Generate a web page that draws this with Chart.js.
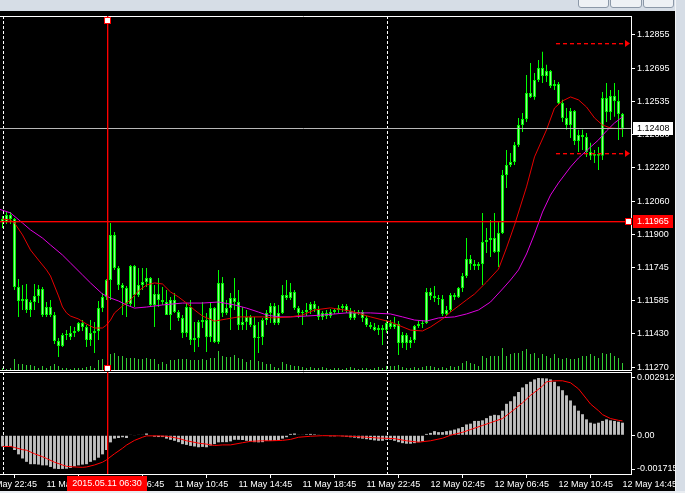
<!DOCTYPE html>
<html>
<head>
<meta charset="utf-8">
<script src="https://cdn.jsdelivr.net/npm/chart.js@4.4.1/dist/chart.umd.min.js"></script>
<style>
  html, body { margin: 0; padding: 0; }
  body { width: 685px; height: 493px; background: #000; position: relative; overflow: hidden; }
  #topBand { position: absolute; left: 0; top: 0; width: 685px; height: 11px; background: #d6dde6; }
  .btn { position: absolute; top: -5px; height: 11px; background: #eef1f5; border: 1px solid #8c98a8; border-radius: 3px; }
  #rightStrip { position: absolute; left: 675px; top: 0; width: 10px; height: 493px; background: #d6dde6; border-left: 1px solid #f2f4f7; }
  #bottomBand { position: absolute; left: 0; top: 491px; width: 685px; height: 2px; background: #e9edf2; }
  #mainWrap { position: absolute; left: -24px; top: 16px; }
  #macdWrap { position: absolute; left: -24px; top: 372px; }
</style>
</head>
<body>
<div id="topBand"></div>
<div class="btn" style="left:578px;width:29px"></div>
<div class="btn" style="left:610px;width:30px"></div>
<div class="btn" style="left:643px;width:29px"></div>
<div id="mainWrap"><canvas id="mainChart" width="699" height="355"></canvas></div>
<div id="macdWrap"><canvas id="macdChart" width="699" height="119"></canvas></div>
<div id="rightStrip"></div>
<div id="bottomBand"></div>
<script>
// EURUSD M15, 11 May 00:00 .. 12 May 14:45 (bar 0 = 11 May 00:00)
const opens = [
  1.11976,1.11962,1.11995,1.11976,1.11652,1.11585,1.11594,1.11542,1.11580,1.11609,
  1.11642,1.11518,1.11556,1.11518,1.11394,1.11370,1.11423,1.11413,1.11432,1.11442,
  1.11480,1.11461,1.11399,1.11432,1.11442,1.11551,1.11604,1.11685,1.11900,1.11742,
  1.11661,1.11647,1.11571,1.11752,1.11613,1.11661,1.11675,1.11695,1.11566,1.11618,
  1.11590,1.11580,1.11518,1.11590,1.11532,1.11504,1.11432,1.11556,1.11399,1.11408,
  1.11485,1.11494,1.11413,1.11551,1.11389,1.11671,1.11528,1.11551,1.11599,1.11580,
  1.11470,1.11485,1.11509,1.11470,1.11408,1.11413,1.11494,1.11528,1.11561,1.11480,
  1.11528,1.11613,1.11599,1.11628,1.11551,1.11528,1.11532,1.11542,1.11571,1.11547,
  1.11509,1.11528,1.11513,1.11532,1.11542,1.11551,1.11561,1.11537,1.11504,1.11528,
  1.11532,1.11504,1.11470,1.11461,1.11446,1.11456,1.11446,1.11480,1.11461,1.11475,
  1.11384,1.11423,1.11384,1.11399,1.11466,1.11475,1.11480,1.11628,1.11609,1.11599,
  1.11594,1.11523,1.11542,1.11613,1.11604,1.11647,1.11704,1.11785,1.11761,1.11752,
  1.11761,1.11866,1.11876,1.11885,1.11819,1.11909,1.12186,1.12234,1.12248,1.12329,
  1.12424,1.12453,1.12577,1.12558,1.12639,1.12696,1.12658,1.12682,1.12610,1.12620,
  1.12529,1.12458,1.12424,1.12491,1.12348,1.12377,1.12367,1.12296,1.12277,1.12286,
  1.12277,1.12553,1.12486,1.12563,1.12539,1.12477
];
const highs = [
  1.11990,1.12009,1.12009,1.11981,1.11690,1.11661,1.11666,1.11590,1.11666,1.11661,
  1.11652,1.11580,1.11590,1.11532,1.11408,1.11432,1.11446,1.11466,1.11461,1.11485,
  1.11494,1.11470,1.11494,1.11485,1.11585,1.11623,1.11690,1.11957,1.11914,1.11752,
  1.11671,1.11656,1.11757,1.11757,1.11742,1.11742,1.11742,1.11699,1.11661,1.11695,
  1.11652,1.11637,1.11604,1.11623,1.11542,1.11518,1.11575,1.11590,1.11485,1.11494,
  1.11580,1.11528,1.11580,1.11556,1.11733,1.11699,1.11590,1.11623,1.11695,1.11637,
  1.11556,1.11542,1.11518,1.11509,1.11485,1.11504,1.11542,1.11575,1.11575,1.11566,
  1.11661,1.11685,1.11671,1.11637,1.11561,1.11542,1.11575,1.11580,1.11585,1.11561,
  1.11537,1.11542,1.11547,1.11551,1.11566,1.11571,1.11571,1.11551,1.11542,1.11542,
  1.11542,1.11513,1.11485,1.11480,1.11470,1.11470,1.11494,1.11494,1.11509,1.11489,
  1.11437,1.11432,1.11413,1.11470,1.11489,1.11494,1.11647,1.11647,1.11656,1.11613,
  1.11613,1.11561,1.11623,1.11623,1.11652,1.11718,1.11885,1.11804,1.11780,1.11771,
  1.12005,1.11933,1.11971,1.12005,1.11962,1.12210,1.12305,1.12291,1.12343,1.12458,
  1.12482,1.12663,1.12720,1.12672,1.12734,1.12773,1.12711,1.12687,1.12639,1.12629,
  1.12544,1.12505,1.12505,1.12496,1.12401,1.12401,1.12386,1.12339,1.12305,1.12319,
  1.12582,1.12625,1.12591,1.12625,1.12591,1.12482
];
const lows = [
  1.11933,1.11952,1.11952,1.11637,1.11509,1.11542,1.11528,1.11509,1.11542,1.11575,
  1.11509,1.11509,1.11509,1.11380,1.11318,1.11365,1.11399,1.11399,1.11413,1.11437,
  1.11442,1.11365,1.11370,1.11337,1.11399,1.11532,1.11590,1.11590,1.11733,1.11637,
  1.11518,1.11509,1.11556,1.11556,1.11604,1.11637,1.11652,1.11556,1.11461,1.11556,
  1.11566,1.11518,1.11446,1.11528,1.11489,1.11408,1.11413,1.11375,1.11342,1.11365,
  1.11456,1.11342,1.11389,1.11384,1.11380,1.11509,1.11518,1.11446,1.11542,1.11446,
  1.11446,1.11446,1.11461,1.11303,1.11337,1.11375,1.11470,1.11480,1.11470,1.11470,
  1.11523,1.11590,1.11590,1.11542,1.11504,1.11470,1.11513,1.11523,1.11532,1.11494,
  1.11494,1.11499,1.11504,1.11523,1.11528,1.11532,1.11528,1.11494,1.11494,1.11518,
  1.11485,1.11461,1.11451,1.11442,1.11423,1.11375,1.11432,1.11451,1.11451,1.11327,
  1.11361,1.11351,1.11361,1.11384,1.11456,1.11456,1.11475,1.11590,1.11580,1.11566,
  1.11513,1.11518,1.11532,1.11590,1.11599,1.11628,1.11695,1.11733,1.11733,1.11733,
  1.11661,1.11814,1.11795,1.11814,1.11747,1.11904,1.12124,1.12224,1.12234,1.12319,
  1.12391,1.12439,1.12553,1.12544,1.12629,1.12625,1.12629,1.12601,1.12591,1.12520,
  1.12439,1.12401,1.12362,1.12329,1.12296,1.12305,1.12272,1.12257,1.12243,1.12210,
  1.12257,1.12439,1.12448,1.12463,1.12353,1.12367
];
const closes = [
  1.11962,1.11995,1.11976,1.11652,1.11585,1.11594,1.11542,1.11580,1.11609,1.11642,
  1.11518,1.11556,1.11518,1.11394,1.11370,1.11423,1.11427,1.11432,1.11442,1.11480,
  1.11461,1.11399,1.11432,1.11442,1.11551,1.11604,1.11685,1.11900,1.11742,1.11661,
  1.11647,1.11571,1.11752,1.11613,1.11661,1.11675,1.11695,1.11566,1.11618,1.11590,
  1.11580,1.11518,1.11590,1.11532,1.11504,1.11432,1.11556,1.11399,1.11408,1.11485,
  1.11494,1.11413,1.11551,1.11389,1.11671,1.11528,1.11551,1.11599,1.11580,1.11470,
  1.11485,1.11509,1.11470,1.11408,1.11413,1.11494,1.11528,1.11561,1.11480,1.11528,
  1.11613,1.11599,1.11628,1.11551,1.11528,1.11532,1.11542,1.11571,1.11547,1.11509,
  1.11528,1.11513,1.11532,1.11542,1.11551,1.11561,1.11537,1.11504,1.11528,1.11532,
  1.11504,1.11470,1.11461,1.11446,1.11456,1.11446,1.11480,1.11461,1.11475,1.11384,
  1.11423,1.11384,1.11399,1.11466,1.11475,1.11480,1.11628,1.11609,1.11599,1.11594,
  1.11523,1.11542,1.11613,1.11604,1.11647,1.11704,1.11785,1.11761,1.11752,1.11761,
  1.11866,1.11876,1.11885,1.11819,1.11909,1.12186,1.12234,1.12248,1.12329,1.12424,
  1.12453,1.12577,1.12558,1.12639,1.12696,1.12658,1.12682,1.12610,1.12620,1.12529,
  1.12458,1.12424,1.12491,1.12348,1.12377,1.12367,1.12296,1.12277,1.12286,1.12277,
  1.12553,1.12486,1.12563,1.12539,1.12477,1.12408
];
const volumes = [
  150,100,150,600,350,350,300,300,250,150,
  250,150,250,350,250,150,150,100,150,150,
  150,200,250,150,550,600,200,850,900,750,
  750,650,650,650,600,600,650,600,600,350,
  450,350,550,550,600,600,600,550,550,550,
  600,550,650,650,1000,750,700,700,800,650,
  600,450,550,700,500,450,350,350,200,150,
  450,350,300,250,250,200,150,200,150,150,
  200,150,100,150,150,100,150,200,150,100,
  150,150,100,150,200,150,250,250,250,300,
  200,150,150,200,150,200,250,250,200,150,
  200,150,250,200,250,400,500,400,350,250,
  750,650,750,750,750,1150,750,850,900,900,
  1000,1100,850,900,650,850,750,650,850,650,
  600,650,600,600,650,750,750,850,750,650,
  900,850,900,750,650,400
];

// moving averages, read at the bars listed
const fastMaBars = [0,2,3,5,7,9,11,12,14,15,16,17,19,21,23,25,26,27,28,30,32,34,36,38,40,42,44,46,48,50,53,56,59,62,65,68,72,75,78,82,87,92,97,102,105,107,110,112,114,116,118,121,124,126,128,131,133,136,138,140,142,144,146,148,150,152,155];
const fastMaVals = [1.11976,1.11971,1.11957,1.11900,1.11828,1.11780,1.11733,1.11704,1.11609,1.11556,
  1.11528,1.11513,1.11499,1.11475,1.11456,1.11456,1.11470,1.11494,1.11528,1.11561,
  1.11590,1.11633,1.11661,1.11671,1.11666,1.11628,1.11604,1.11575,1.11542,1.11513,
  1.11489,1.11499,1.11509,1.11509,1.11509,1.11504,1.11509,1.11518,1.11542,1.11552,
  1.11537,1.11509,1.11485,1.11446,1.11442,1.11461,1.11499,1.11532,1.11561,1.11590,
  1.11618,1.11675,1.11737,1.11838,1.11947,1.12129,1.12272,1.12401,1.12505,1.12539,
  1.12558,1.12544,1.12510,1.12458,1.12424,1.12410,1.12405];
const slowMaBars = [-1,2,5,7,10,12,15,17,20,22,25,27,29,31,33,36,40,45,50,54,58,61,64,66,69,72,76,80,86,92,97,100,103,106,109,113,116,119,122,125,127,129,131,133,135,137,139,142,144,147,149,151,153,155];
const slowMaVals = [1.12024,1.12005,1.11957,1.11924,1.11885,1.11852,1.11804,1.11766,1.11709,1.11671,
  1.11618,1.11599,1.11585,1.11566,1.11551,1.11556,1.11566,1.11575,1.11575,1.11580,
  1.11566,1.11551,1.11532,1.11518,1.11509,1.11509,1.11513,1.11518,1.11528,1.11528,
  1.11523,1.11509,1.11494,1.11489,1.11504,1.11509,1.11523,1.11542,1.11580,1.11642,
  1.11685,1.11733,1.11809,1.11904,1.12009,1.12090,1.12148,1.12224,1.12267,1.12319,
  1.12353,1.12396,1.12434,1.12463];

// MACD histogram (one per bar) and signal line
const macdHist = [
  -0.00057,-0.00057,-0.00057,-0.00075,-0.00097,-0.00118,-0.00135,-0.00147,-0.00147,-0.00149,
  -0.00153,-0.00153,-0.00161,-0.00170,-0.001715,-0.00171,-0.00170,-0.00166,-0.00158,-0.00153,
  -0.00149,-0.00147,-0.00135,-0.00127,-0.00114,-0.00097,-0.00075,-0.00036,-0.00017,-0.00014,
  -0.00010,-0.00014,0.00003,-0.00003,0.00003,0.00003,0.00009,-0.00003,-0.00007,-0.00009,
  -0.00009,-0.00017,-0.00023,-0.00028,-0.00035,-0.00045,-0.00049,-0.00054,-0.00057,-0.00061,
  -0.00059,-0.00061,-0.00052,-0.00045,-0.00036,-0.00035,-0.00035,-0.00031,-0.00023,-0.00023,
  -0.00024,-0.00028,-0.00031,-0.00035,-0.00036,-0.00035,-0.00029,-0.00028,-0.00028,-0.00026,
  -0.00017,-0.00010,0.00007,0.00009,0.00003,0.00003,0.00005,0.00007,0.00005,0.00002,
  0.00000,-0.00003,-0.00005,-0.00005,-0.00003,-0.00005,-0.00007,-0.00010,-0.00012,-0.00015,
  -0.00017,-0.00020,-0.00023,-0.00026,-0.00028,-0.00028,-0.00023,-0.00023,-0.00028,-0.00035,
  -0.00040,-0.00043,-0.00043,-0.00040,-0.00035,-0.00031,0.00007,0.00012,0.00021,0.00016,
  0.00016,0.00021,0.00024,0.00029,0.00035,0.00042,0.00055,0.00059,0.00073,0.00073,
  0.00076,0.00087,0.00099,0.00104,0.00102,0.00125,0.00160,0.00173,0.00198,0.00220,
  0.00243,0.00260,0.00272,0.00284,0.002912,0.00290,0.00289,0.00284,0.00272,0.00249,
  0.00229,0.00203,0.00177,0.00151,0.00125,0.00107,0.00081,0.00064,0.00059,0.00064,
  0.00073,0.00081,0.00076,0.00073,0.00069,0.00064
];
const signalBars = [0,2,3,5,6,8,10,11,13,15,16,18,20,21,23,25,26,28,30,31,33,35,36,39,41,44,46,49,51,53,55,57,60,62,65,67,70,72,74,77,80,84,88,91,94,98,101,104,107,110,112,115,117,120,122,125,127,130,132,135,136,138,140,142,144,146,147,149,150,152,154,155];
const signalVals = [-0.00057,-0.00057,-0.00062,-0.00073,-0.00076,-0.00094,-0.00109,-0.00118,-0.00137,-0.00151,
  -0.00158,-0.00161,-0.00163,-0.00161,-0.00151,-0.00137,-0.00125,-0.00094,-0.00066,-0.00050,
  -0.00026,-0.00010,-0.00003,-0.00003,-0.00005,-0.00016,-0.00028,-0.00040,-0.00045,-0.00052,
  -0.00049,-0.00049,-0.00038,-0.00031,-0.00028,-0.00028,-0.00026,-0.00021,-0.00010,-0.00005,
  -0.00002,-0.00003,-0.00006,-0.00010,-0.00014,-0.00017,-0.00028,-0.00035,-0.00028,-0.00015,
  0.00000,0.00015,0.00029,0.00050,0.00064,0.00085,0.00116,0.00165,0.00203,0.00250,
  0.00272,0.00277,0.00277,0.00267,0.00236,0.00185,0.00159,0.00125,0.00105,0.00085,
  0.00076,0.00073];

// axis ticks
const priceTicks = [1.12855, 1.12695, 1.12535, 1.12380, 1.12220, 1.12060, 1.11900, 1.11745, 1.11585, 1.11430, 1.11270];
const macdTicks = [0.002912, 0, -0.001715];
const macdTickLabels = ['0.002912', '0.00', '-0.001715'];
const timeTickBars = [-5, 11, 27, 43, 59, 75, 91, 107, 123, 139, 155];
const timeTickLabels = ['10 May 22:45', '11 May 02:45', '11 May 06:45', '11 May 10:45', '11 May 14:45',
  '11 May 18:45', '11 May 22:45', '12 May 02:45', '12 May 06:45', '12 May 10:45', '12 May 14:45'];

// objects on the chart
const daySeparators = [0, 96];
const crossBar = 26;
const crossTime = '2015.05.11 06:30';
const crossPrice = 1.11965;
const arrowLevels = [1.12816, 1.12291];
const arrowStartBar = 138.25;

const FONT = "'Liberation Sans', Arial, sans-serif";
Chart.defaults.font.family = FONT;
Chart.defaults.font.size = 9;
Chart.defaults.color = '#ffffff';

const X_MIN = -6.625, X_MAX = 157.125;
const AXIS_W = 44;
const RED = '#ff0000';
const RED_FRINGE = 'rgba(255,0,0,0.35)';
const bars = opens.map((_, i) => i);
const toPoints = (xs, ys) => xs.map((x, i) => ({ x: x, y: ys[i] }));

function crisp(v) { return Math.round(v) + 0.5; }
function hLine(ctx, x1, x2, y) { ctx.beginPath(); ctx.moveTo(x1, y); ctx.lineTo(x2, y); ctx.stroke(); }

function drawSeparators(chart) {
  const { ctx, chartArea: a, scales: { x } } = chart;
  ctx.save();
  ctx.strokeStyle = '#ffffff';
  ctx.lineWidth = 1;
  ctx.setLineDash([3, 2]);
  daySeparators.forEach(b => {
    const px = crisp(x.getPixelForValue(b));
    ctx.beginPath(); ctx.moveTo(px, a.top); ctx.lineTo(px, a.bottom); ctx.stroke();
  });
  ctx.restore();
}

// red object lines: 1px core with a faint fringe, like the screenshot
function crossVertical(chart) {
  const { ctx, chartArea: a, scales: { x } } = chart;
  const px = Math.round(x.getPixelForValue(crossBar));
  ctx.fillStyle = RED_FRINGE;
  ctx.fillRect(px + 1, a.top, 1, a.bottom - a.top);
  ctx.fillStyle = RED;
  ctx.fillRect(px, a.top, 1, a.bottom - a.top);
}

function crossHorizontal(chart) {
  const { ctx, chartArea: a, scales: { y } } = chart;
  const py = Math.round(y.getPixelForValue(crossPrice));
  ctx.fillStyle = RED_FRINGE;
  ctx.fillRect(a.left, py + 1, a.right - a.left, 1);
  ctx.fillStyle = RED;
  ctx.fillRect(a.left, py, a.right - a.left, 1);
}

function axisBox(ctx, a, y, text, bg, fg) {
  const x0 = a.right + 2;
  ctx.fillStyle = bg;
  ctx.fillRect(x0, Math.round(y) - 6, 40, 13);
  ctx.fillStyle = fg;
  ctx.textBaseline = 'middle';
  ctx.textAlign = 'left';
  ctx.font = '9px ' + FONT;
  ctx.fillText(text, x0 + 4, Math.round(y) + 1);
}

function marker(ctx, x, y) {
  ctx.fillStyle = '#ffffff';
  ctx.strokeStyle = RED;
  ctx.lineWidth = 1;
  ctx.fillRect(Math.round(x) - 2, Math.round(y) - 2, 5, 5);
  ctx.strokeRect(Math.round(x) - 2.5, Math.round(y) - 2.5, 6, 6);
}

const mainOverlay = {
  id: 'mainOverlay',
  beforeDatasetsDraw(chart) {
    drawSeparators(chart);
  },
  afterDatasetsDraw(chart) {
    const { ctx, chartArea: a, scales: { x, y } } = chart;
    ctx.save();
    ctx.lineWidth = 1;
    // frame
    ctx.strokeStyle = '#ffffff';
    hLine(ctx, a.left, a.right, a.top + 0.5);
    hLine(ctx, a.left, a.right, a.bottom - 0.5);
    // bid line
    ctx.strokeStyle = '#b8b8b8';
    hLine(ctx, a.left, a.right, crisp(y.getPixelForValue(closes[closes.length - 1])));
    // dashed arrows
    arrowLevels.forEach(lv => {
      const py = crisp(y.getPixelForValue(lv));
      const x1 = Math.round(x.getPixelForValue(arrowStartBar));
      ctx.setLineDash([4, 3]);
      ctx.strokeStyle = RED_FRINGE;
      hLine(ctx, x1, a.right - 5, py + 1);
      ctx.strokeStyle = RED;
      hLine(ctx, x1, a.right - 5, py);
      ctx.setLineDash([]);
      ctx.fillStyle = RED;
      ctx.beginPath();
      ctx.moveTo(a.right - 1, py);
      ctx.lineTo(a.right - 6, py - 3.5);
      ctx.lineTo(a.right - 6, py + 3.5);
      ctx.closePath();
      ctx.fill();
    });
    // crosshair
    const cx = Math.round(x.getPixelForValue(crossBar));
    const cy = Math.round(y.getPixelForValue(crossPrice));
    crossVertical(chart);
    crossHorizontal(chart);
    marker(ctx, cx, a.top + 4);
    marker(ctx, cx, a.bottom - 3);
    marker(ctx, a.right - 3, cy);
    ctx.restore();
  },
  afterDraw(chart) {
    const { ctx, chartArea: a, scales: { y } } = chart;
    const last = closes[closes.length - 1];
    ctx.save();
    axisBox(ctx, a, y.getPixelForValue(last), last.toFixed(5), '#ffffff', '#000000');
    axisBox(ctx, a, y.getPixelForValue(crossPrice), crossPrice.toFixed(5), RED, '#ffffff');
    ctx.restore();
  }
};

const macdOverlay = {
  id: 'macdOverlay',
  beforeDatasetsDraw(chart) {
    drawSeparators(chart);
  },
  afterDatasetsDraw(chart) {
    const { ctx, chartArea: a } = chart;
    ctx.save();
    ctx.lineWidth = 1;
    ctx.strokeStyle = '#ffffff';
    hLine(ctx, a.left, a.right, a.top + 0.5);
    crossVertical(chart);
    ctx.restore();
  },
  afterDraw(chart) {
    const { ctx, chartArea: a, scales: { x } } = chart;
    const cx = Math.round(x.getPixelForValue(crossBar));
    ctx.save();
    ctx.fillStyle = RED;
    ctx.fillRect(cx - 40, a.bottom + 2, 80, 15);
    ctx.fillStyle = '#ffffff';
    ctx.textAlign = 'center';
    ctx.textBaseline = 'middle';
    ctx.font = '9px ' + FONT;
    ctx.fillText(crossTime, cx, a.bottom + 10);
    ctx.restore();
  }
};

const fitY = s => { s.width = AXIS_W; s.paddingTop = 0; s.paddingBottom = 0; };

new Chart(document.getElementById('mainChart'), {
  type: 'bar',
  data: {
    datasets: [
      { type: 'line', data: toPoints(fastMaBars, fastMaVals), borderColor: '#e60000', borderWidth: 1, pointRadius: 0, order: 1 },
      { type: 'line', data: toPoints(slowMaBars, slowMaVals), borderColor: '#e000e0', borderWidth: 1, pointRadius: 0, order: 2 },
      { data: bars.map(i => ({ x: i, y: [opens[i], closes[i]] })), backgroundColor: '#a6ffa6', borderColor: '#00ff00',
        borderWidth: 1, borderSkipped: false, grouped: false, maxBarThickness: 3, order: 3 },
      { data: bars.map(i => ({ x: i, y: [lows[i], highs[i]] })), backgroundColor: '#00ff00', grouped: false, maxBarThickness: 1, order: 4 },
      { data: bars.map(i => ({ x: i, y: volumes[i] })), yAxisID: 'yVol', backgroundColor: '#32cd32', grouped: false, maxBarThickness: 1, order: 5 }
    ]
  },
  options: {
    responsive: false,
    animation: false,
    events: [],
    layout: { padding: 0 },
    plugins: { legend: { display: false }, tooltip: { enabled: false } },
    scales: {
      x: { type: 'linear', min: X_MIN, max: X_MAX, offset: false, display: false },
      y: {
        position: 'right',
        min: 1.11251,
        max: 1.12944,
        afterBuildTicks: s => { s.ticks = priceTicks.map(v => ({ value: v })); },
        afterFit: fitY,
        ticks: { autoSkip: false, padding: 2, color: '#ffffff', callback: v => Number(v).toFixed(5) },
        grid: { drawOnChartArea: false, drawTicks: true, tickLength: 4, color: '#ffffff' },
        border: { display: true, color: '#ffffff' }
      },
      yVol: { display: false, min: 0, max: 17750 }
    }
  },
  plugins: [mainOverlay]
});

new Chart(document.getElementById('macdChart'), {
  type: 'bar',
  data: {
    datasets: [
      { type: 'line', data: toPoints(signalBars, signalVals), borderColor: RED, borderWidth: 1, pointRadius: 0, order: 1 },
      { data: bars.map(i => ({ x: i, y: macdHist[i] })), backgroundColor: '#c0c0c0', grouped: false, maxBarThickness: 3, order: 2 }
    ]
  },
  options: {
    responsive: false,
    animation: false,
    events: [],
    layout: { padding: 0 },
    plugins: { legend: { display: false }, tooltip: { enabled: false } },
    scales: {
      x: {
        type: 'linear', min: X_MIN, max: X_MAX, offset: false, position: 'bottom',
        afterBuildTicks: s => { s.ticks = timeTickBars.map(v => ({ value: v })); },
        afterFit: s => { s.height = 17; s.paddingLeft = 0; s.paddingRight = 0; },
        ticks: { autoSkip: false, maxRotation: 0, align: 'start', padding: 1, color: '#ffffff',
          callback: (v, i) => timeTickLabels[i] },
        grid: { drawOnChartArea: false, drawTicks: true, tickLength: 4, color: '#ffffff' },
        border: { display: true, color: '#ffffff' }
      },
      y: {
        position: 'right',
        min: -0.001969,
        max: 0.003217,
        afterBuildTicks: s => { s.ticks = macdTicks.map(v => ({ value: v })); },
        afterFit: fitY,
        ticks: { autoSkip: false, padding: 2, color: '#ffffff', callback: (v, i) => macdTickLabels[i] },
        grid: { drawOnChartArea: false, drawTicks: true, tickLength: 4, color: '#ffffff' },
        border: { display: true, color: '#ffffff' }
      }
    }
  },
  plugins: [macdOverlay]
});
</script>
</body>
</html>
